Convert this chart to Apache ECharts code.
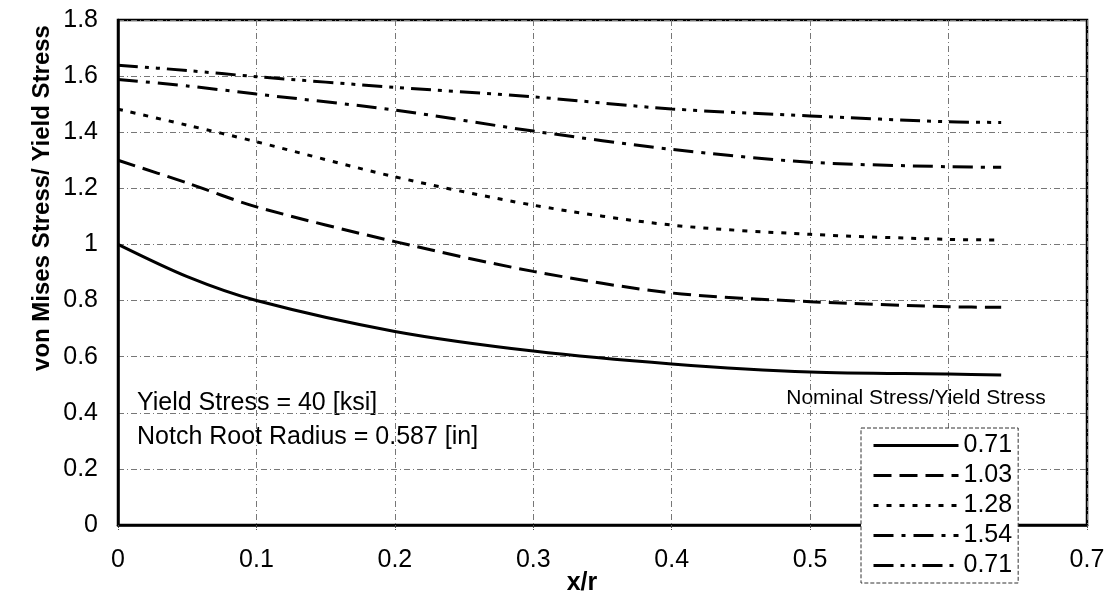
<!DOCTYPE html>
<html>
<head>
<meta charset="utf-8">
<title>von Mises Stress / Yield Stress vs x/r</title>
<script src="https://cdn.jsdelivr.net/npm/echarts@6/dist/echarts.min.js"></script>
<style>
  html, body { margin: 0; padding: 0; background: #fff; }
  #main { width: 1115px; height: 601px; }
</style>
</head>
<body>
<div id="main"></div>
<script>
// x/r positions
var xr = [0, 0.05, 0.1, 0.2, 0.3, 0.4, 0.5, 0.6, 0.638];

// nominal stress / yield stress series
var s071  = [1.0,   0.885, 0.80,  0.69,  0.62,  0.574, 0.545, 0.538, 0.535];
var s103  = [1.30,  1.219, 1.134, 1.01,  0.904, 0.827, 0.796, 0.778, 0.776];
var s128  = [1.482, 1.425, 1.366, 1.241, 1.14,  1.069, 1.036, 1.018, 1.016];
var s154  = [1.588, 1.565, 1.536, 1.479, 1.404, 1.339, 1.293, 1.277, 1.275];
var s071b = [1.639, 1.62,  1.598, 1.56,  1.526, 1.483, 1.458, 1.437, 1.435];

var seriesNames = ['0.71', '1.03', '1.28', '1.54', '0.71 '];
var seriesData = [s071, s103, s128, s154, s071b];
var dashes = ['solid', [18, 8], [5, 8], [20, 8, 4, 8], [20, 7, 4, 7, 4, 7]];

var font = 'Liberation Sans, Arial, sans-serif';

function pairs(vals) {
  var out = [];
  for (var i = 0; i < vals.length; i++) {
    out.push([xr[i], vals[i]]);
  }
  return out;
}

var series = [];
for (var i = 0; i < seriesData.length; i++) {
  series.push({
    name: seriesNames[i],
    type: 'line',
    smooth: 0.3,
    symbol: 'none',
    data: pairs(seriesData[i]),
    lineStyle: { color: '#000', width: 3, type: dashes[i] },
    itemStyle: { color: '#000' }
  });
}

var gridLine = { show: true, lineStyle: { color: '#777', width: 1, type: [6, 3, 1, 3] } };

var myChart = echarts.init(document.getElementById('main'));
var option = {
  animation: false,
  backgroundColor: '#fff',
  grid: {
    left: 118, right: 28, top: 20, bottom: 76,
    show: true, borderColor: '#000', borderWidth: 2.5
  },
  xAxis: {
    type: 'value',
    min: 0, max: 0.7, interval: 0.1,
    axisLine: { show: true, lineStyle: { color: '#000', width: 2.5 } },
    axisTick: { show: true, length: 6, lineStyle: { color: '#555', type: 'dotted' } },
    axisLabel: { color: '#000', fontSize: 25, fontFamily: font, margin: 23 },
    splitLine: gridLine
  },
  yAxis: {
    type: 'value',
    min: 0, max: 1.8, interval: 0.2,
    axisLine: { show: true, lineStyle: { color: '#000', width: 2.5 } },
    axisTick: { show: false },
    axisLabel: { color: '#000', fontSize: 25, fontFamily: font, margin: 20 },
    splitLine: gridLine
  },
  legend: {
    orient: 'vertical',
    left: 861, top: 428,
    width: 157,
    padding: [5, 6, 5, 11],
    itemWidth: 85, itemHeight: 25, itemGap: 5,
    backgroundColor: '#fff',
    borderColor: '#333', borderWidth: 1, borderType: 'dashed',
    selectedMode: false,
    itemStyle: { opacity: 0 },
    lineStyle: { width: 3 },
    data: seriesNames,
    formatter: function (name) { return name.trim(); },
    textStyle: { color: '#000', fontSize: 25, fontFamily: font }
  },
  graphic: [
    {
      type: 'text', x: 137, y: 403,
      style: { text: 'Yield Stress = 40 [ksi]', fill: '#000', font: '25px ' + font, verticalAlign: 'middle' }
    },
    {
      type: 'text', x: 137, y: 437,
      style: { text: 'Notch Root Radius = 0.587 [in]', fill: '#000', font: '25px ' + font, verticalAlign: 'middle' }
    },
    {
      type: 'text', x: 916, y: 398,
      style: { text: 'Nominal Stress/Yield Stress', fill: '#000', font: '21px ' + font, align: 'center', verticalAlign: 'middle' }
    },
    {
      type: 'text', x: 582, y: 583,
      style: { text: 'x/r', fill: '#000', font: 'bold 25px ' + font, align: 'center', verticalAlign: 'middle' }
    },
    {
      type: 'text', x: 42, y: 198, rotation: Math.PI / 2,
      style: { text: 'von Mises Stress/ Yield Stress', fill: '#000', font: 'bold 24px ' + font, align: 'center', verticalAlign: 'middle' }
    }
  ],
  series: series
};
myChart.setOption(option);
</script>
</body>
</html>
